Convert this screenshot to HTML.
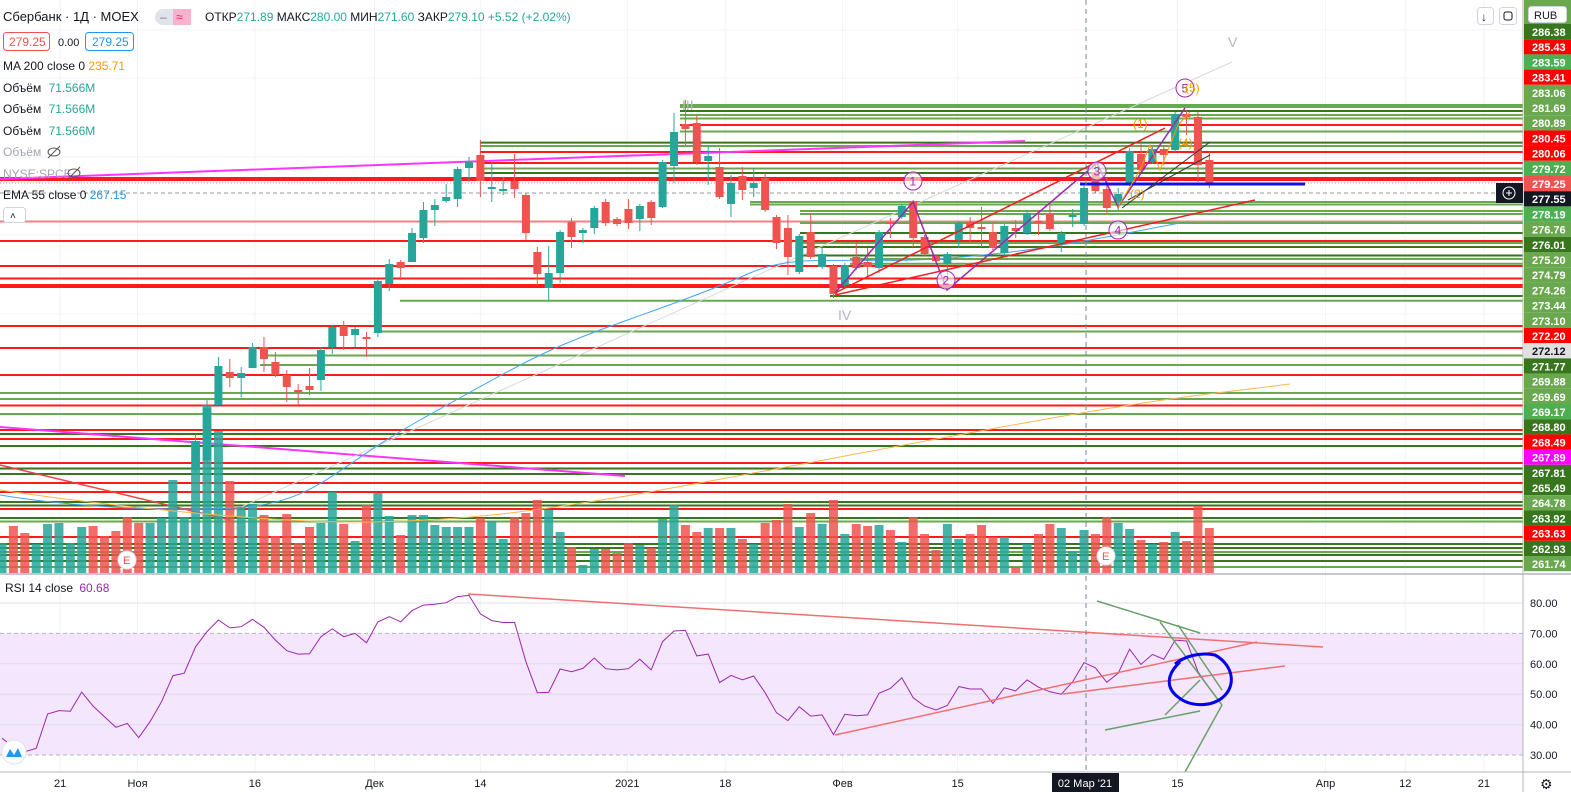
<!DOCTYPE html>
<html><head><meta charset="utf-8"><title>Сбербанк 1Д MOEX</title>
<style>
html,body{margin:0;padding:0;background:#fff;overflow:hidden}
svg{display:block;font-family:"Liberation Sans","Noto Sans CJK SC",sans-serif}
.ax{font-size:11px;fill:#131722}
.pl{font-size:11px;font-weight:bold}
</style></head>
<body>
<svg id="chart" width="1571" height="792" viewBox="0 0 1571 792" xmlns="http://www.w3.org/2000/svg">
<rect x="0" y="0" width="1571" height="792" fill="#ffffff"/>
<g id="grid"></g>
<g id="hlines"></g>
<g id="volumes"></g>
<g id="mas"></g>
<g id="candles"></g>
<g id="drawings"></g>
<g id="rsi"></g>
<g id="axes"></g>

<g>
 <text x="3" y="21" font-size="13" fill="#131722">Сбербанк · 1Д · MOEX</text>
 <rect x="155" y="9" width="36" height="16" rx="8" fill="#e0e3eb"/>
 <rect x="173" y="9" width="18" height="16" rx="0" fill="#f7b3cc"/>
 <text x="160" y="21" font-size="12" fill="#787b86">–</text>
 <text x="176" y="21" font-size="12" fill="#e91e63">≈</text>
 <text x="205" y="21" font-size="12" fill="#131722">ОТКР<tspan fill="#26a69a">271.89</tspan> МАКС<tspan fill="#26a69a">280.00</tspan> МИН<tspan fill="#26a69a">271.60</tspan> ЗАКР<tspan fill="#26a69a">279.10</tspan> <tspan fill="#26a69a">+5.52 (+2.02%)</tspan></text>
 <rect x="3.5" y="32.5" width="46" height="18" rx="3" fill="#fff" stroke="#ef5350"/>
 <text x="9" y="46" font-size="12" fill="#ef5350">279.25</text>
 <text x="58" y="46" font-size="11" fill="#131722">0.00</text>
 <rect x="85.5" y="32.5" width="48" height="18" rx="3" fill="#fff" stroke="#2196f3"/>
 <text x="92" y="46" font-size="12" fill="#2196f3">279.25</text>
 <text x="3" y="70" font-size="12" fill="#131722">MA 200 close 0 <tspan fill="#ff9800">235.71</tspan></text>
 <text x="3" y="92" font-size="12" fill="#131722">Объём <tspan fill="#26a69a" dx="4">71.566M</tspan></text>
 <text x="3" y="113" font-size="12" fill="#131722">Объём <tspan fill="#26a69a" dx="4">71.566M</tspan></text>
 <text x="3" y="135" font-size="12" fill="#131722">Объём <tspan fill="#26a69a" dx="4">71.566M</tspan></text>
 <text x="3" y="156" font-size="12" fill="#a3a6af">Объём</text>
 <g stroke="#555" fill="none"><ellipse cx="54" cy="152" rx="6" ry="4"/><line x1="48" y1="158" x2="60" y2="146"/></g>
 <text x="3" y="178" font-size="12" fill="#a3a6af">NYSE:SPCE</text>
 <g stroke="#555" fill="none"><ellipse cx="74" cy="173" rx="6" ry="4"/><line x1="68" y1="179" x2="80" y2="167"/></g>
 <text x="3" y="199" font-size="12" fill="#131722">EMA 55 close 0 <tspan fill="#2196f3">267.15</tspan></text>
 <rect x="3.5" y="207.5" width="22" height="15" rx="3" fill="#fff" stroke="#d1d4dc"/>
 <text x="10" y="219" font-size="10" fill="#131722">˄</text>
 <text x="5" y="592" font-size="12" fill="#131722">RSI 14 close <tspan fill="#9c27b0" dx="3">60.68</tspan></text>
</g>
<g>
 <rect x="1477.5" y="7.5" width="16" height="17" rx="3" fill="#fff" stroke="#d1d4dc"/>
 <text x="1481" y="21" font-size="12" fill="#131722">↓</text>
 <rect x="1499.5" y="7.5" width="17" height="17" rx="3" fill="#fff" stroke="#d1d4dc"/>
 <rect x="1504" y="12" width="8" height="8" rx="2" fill="none" stroke="#131722"/>
</g>
<g>
 <circle cx="127" cy="560" r="9" fill="#fff" stroke="#e0e3eb"/>
 <text x="123" y="564" font-size="11" fill="#ef5350">E</text>
 <circle cx="1106" cy="556" r="9" fill="#fff" stroke="#e0e3eb"/>
 <text x="1102" y="560" font-size="11" fill="#ef5350">E</text>
 <circle cx="14" cy="752" r="12" fill="#fff" stroke="#e0e3eb"/>
 <path d="M6 757 L10 749 L14 755 L18 748 L22 757 Z" fill="#2196f3"/>
</g>
</svg>
<script>
// ===== data =====
const startIdx = 17;
const opens = [249.75,250.75,256.25,259.55,258.95,259.95,262.05,260.55,259.25,257.75,
258.15,258.75,262.05,264.15,263.25,263.05,263.45,268.35,270.55,270.55,
272.95,275.75,276.65,276.85,279.95,281.25,277.85,277.65,278.65,277.25,
271.55,267.95,269.45,274.55,273.45,273.95,276.55,274.85,275.85,274.85,
276.55,276.05,280.15,284.35,284.45,280.65,280.05,276.35,279.15,277.95,
278.95,275.05,273.95,269.55,273.55,270.05,270.15,268.25,271.05,270.55,
269.95,274.55,275.05,276.55,273.05,271.15,270.35,272.75,274.55,274.05,
273.55,271.45,273.95,273.45,274.65,275.35,272.45,275.05,274.35,279.55,
277.85,276.55,278.35,281.35,280.55,281.85,281.75,285.35,285.05,280.75];
const highs = [253.35,256.75,261.05,260.85,260.05,262.45,263.05,261.55,259.75,258.35,
259.95,262.05,264.25,264.65,264.05,263.55,268.85,270.85,270.75,273.95,
276.55,276.85,278.35,280.05,281.05,282.75,280.55,279.05,281.35,277.45,
272.05,272.15,273.75,274.95,273.95,276.15,276.85,275.05,276.85,276.35,
276.75,280.75,285.45,286.75,285.15,282.25,281.95,279.25,280.05,279.95,
279.45,275.25,275.25,273.35,275.45,272.05,270.35,270.45,272.55,271.95,
273.75,274.95,276.35,276.75,273.25,271.35,271.55,274.65,275.05,276.05,
274.55,274.35,274.75,275.65,275.75,276.25,273.65,275.85,278.15,280.45,
279.05,277.95,281.95,282.75,282.05,282.25,285.55,285.75,285.55,281.55];
const lows = [249.25,250.55,256.25,258.05,257.05,259.95,259.55,259.05,256.55,256.25,
257.25,257.65,261.35,261.75,262.05,261.05,263.05,267.65,268.75,270.55,
272.45,274.15,276.45,276.05,278.55,277.05,276.55,277.25,276.95,272.75,
268.15,266.75,268.45,271.95,272.45,273.35,274.15,274.15,273.85,273.65,
274.25,275.95,278.45,282.25,280.25,278.25,276.85,275.05,276.75,277.05,
275.55,271.85,269.25,269.35,270.85,269.85,266.95,268.05,269.75,268.95,
269.45,272.95,274.85,272.05,271.15,270.45,269.05,271.95,272.45,272.05,
271.75,271.15,272.95,273.25,273.25,273.65,271.55,274.05,274.15,277.45,
275.35,275.75,278.15,279.55,280.35,280.25,281.55,283.25,278.55,277.95];
const closes = [252.65,255.95,260.15,258.95,259.45,262.05,260.85,259.25,258.05,257.55,
257.75,261.75,264.05,263.15,263.85,262.85,268.65,270.35,269.95,273.45,
275.75,276.25,277.05,279.85,280.55,278.65,278.05,277.85,277.85,273.45,
269.35,269.45,273.55,273.05,273.75,275.95,274.45,274.35,274.45,276.15,
274.95,280.55,283.55,283.85,280.55,281.15,277.05,278.45,277.75,278.45,
275.75,272.45,271.05,273.15,271.05,271.35,267.35,270.25,269.95,270.05,
273.55,274.35,276.15,272.95,271.35,270.65,271.35,274.45,273.95,273.85,
271.95,274.15,273.65,275.45,274.45,273.85,273.45,275.25,277.95,277.65,
275.95,277.35,281.65,279.75,281.85,281.25,285.35,285.05,280.25,278.35];
const volumes = [30,47,40,29,49,50,30,46,47,37,42,56,50,50,55,93,56,132,168,142,
92,66,69,58,37,59,30,46,50,81,49,32,68,80,57,38,58,58,48,46,
46,46,55,52,34,56,60,73,63,41,26,8,24,24,20,
30,28,25,54,68,48,41,45,45,45,34,29,50,53,69,46,60,49,73,39,
49,47,48,43,31,56,39,23,49,34,39,48,36,36,6,29,39,49,45,22,
43,39,56,50,44,33,29,31,41,32,67,45];
const earlyVolUp = [1,0,0,1,1,1,1,1,0,0,0,0,0,1,1,1,1];
const rsiValues = [35.5,32.7,31.1,32.2,43.5,44.6,44.4,50.7,46.1,42.6,
39.1,40.4,35.7,41.0,47.5,56.1,56.9,65.6,70.6,74.4,
71.8,72.2,74.6,72.0,67.8,64.3,63.2,63.3,68.9,71.5,
68.9,70.0,66.9,73.8,75.5,73.8,77.5,79.3,79.6,80.1,
82.1,82.5,76.4,74.2,73.6,73.6,60.7,50.5,50.6,58.3,
57.4,58.5,61.9,58.4,58.0,58.4,61.5,58.0,67.3,70.8,
71.0,62.6,63.2,53.8,56.2,54.7,56.0,50.5,43.9,41.3,
45.9,42.8,43.2,36.7,43.4,42.9,43.2,50.3,51.9,55.4,
48.8,46.1,44.8,46.3,52.5,51.7,51.7,47.0,52.1,51.1,
54.7,52.3,50.8,50.0,54.1,60.4,58.7,53.9,56.9,64.8,
59.8,63.1,61.5,67.8,67.5,57.4,52.0];
const rsiTicks = [80,70,60,50,40,30];
const timeLabels = ["21","Ноя","16","Дек","14","2021","18","Фев","15","15","Апр","12","21"];
const timeLabelIdx = [5.1,11.9,22.2,32.7,42,54.9,63.5,73.8,83.9,103.2,116.2,123.2,130.1];
const priceLabels = ["286.38","285.43","283.59","283.41","283.06","281.69","280.89","280.45","280.06","279.72","279.25","277.55","278.19","276.76","276.01","275.20","274.79","274.26","273.44","273.10","272.20","272.12","271.77","269.88","269.69","269.17","268.80","268.49","267.89","267.81","265.49","264.78","263.92","263.63","262.93","261.74"];
const priceLabelKinds = "DRLRMMMRRLPXLMDMMMMMRGDMMLDRXDDMDRDM";

// ===== scales =====
const PANE_R = 1523;
function xI(i){ return 2 + 11.39*i; }
function yP(p){ return (296.75 - p)*10; }
function yV(v){ return 573 - v; }
function yR(v){ return 603 + (80 - v)*3.04; }
const NS = "http://www.w3.org/2000/svg";
function mk(tag, attrs, parent){ const e=document.createElementNS(NS,tag); for(const k in attrs) e.setAttribute(k,attrs[k]); parent.appendChild(e); return e; }
const G = id => document.getElementById(id);
const UP="#26a69a", DN="#ef5350";

// grid
timeLabelIdx.forEach(ix=>{ const x=xI(ix); const l=mk('line',{x1:x,y1:0,x2:x,y2:772,stroke:'#f0f3fa','stroke-width':1},G('grid'));

 });
[30,78,157,235,314,392,470,549].forEach(y=>{ const l=mk('line',{x1:0,y1:y,x2:PANE_R,y2:y,stroke:'#f0f3fa'},G('grid'));

 });

// horizontal level drawings [y, color code, startX]
const levelDefs = [[105,'m',680],[107,'m',680],[111,'d',680],[115,'m',680],[118.5,'m',680],[125,'r',680],[131.5,'m',680],[142.6,'d',480],[146,'m',480],[152,'r',480],[163,'r',480],[168.5,'m',480],[173,'d',480],[178,'r',0],[180,'r',0],[202,'m',750],[204.5,'m',750],[211,'m',800],[214,'m',800],[221.5,'s',0],[223,'m',800],[233,'d',800],[241,'r',0],[243,'m',800],[247,'d',800],[255.5,'d',800],[259,'m',850],[263.7,'m',850],[266,'r',0],[278.5,'r',0],[285,'r',0],[287,'r',0],[296,'d',830],[300.7,'m',400],[326,'r',0],[331.5,'m',380],[348,'r',0],[355.5,'m',260],[365,'m',260],[375,'r',0],[393,'m',0],[399,'m',0],[405.5,'r',0],[414,'m',0],[430,'r',0],[434,'d',0],[439,'r',0],[446,'d',0],[463,'r',0],[468.5,'d',0],[474,'d',0],[483,'r',0],[492,'r',0],[502,'d',0],[505.5,'d',0],[509,'r',0],[518,'d',0],[521.5,'m',0],[537,'r',0],[544,'d',0],[548,'d',0],[552,'m',0],[555,'d',0],[561,'d',0],[567,'m',0]];
const lvlColor={r:'#ff1a1a',m:'#6aa84f',d:'#38761d',s:'#f28080'};
levelDefs.forEach(d=>{ const l=mk('line',{x1:d[2],y1:d[0],x2:PANE_R,y2:d[0],stroke:lvlColor[d[1]],'stroke-width':2},G('hlines'));

 });
{ const l=mk('line',{x1:0,y1:183,x2:PANE_R,y2:183,stroke:'#f28080','stroke-dasharray':'1 2'},G('hlines'));


const l2=mk('line',{x1:0,y1:193,x2:PANE_R,y2:193,stroke:'#9598a1','stroke-dasharray':'4 3'},G('hlines'));


const m1=mk('line',{x1:0,y1:179,x2:1025,y2:141,stroke:'#ff33ff','stroke-width':2},G('hlines'));


const m2=mk('line',{x1:0,y1:427,x2:625,y2:476,stroke:'#ff33ff','stroke-width':2},G('hlines'));


const m3=mk('line',{x1:0,y1:465,x2:230,y2:520,stroke:'#f04040','stroke-width':1.5},G('hlines'));


const g1=mk('line',{x1:230,y1:512,x2:1232,y2:62,stroke:'#d8d8d8','stroke-width':1},G('hlines'));


}

// volumes
volumes.forEach((v,i)=>{
  const up = i>=startIdx ? closes[i-startIdx]>=opens[i-startIdx] : earlyVolUp[i]===1;
  const r=mk('rect',{x:xI(i)-4.5,y:yV(v),width:9,height:v,fill:up?UP:DN,'fill-opacity':0.85},G('volumes'));
  
  
});

// moving averages
{ const ema=mk('path',{d:'M0 495 C60 505 150 512 233 508 S330 470 420 420 S540 352 600 330 S700 295 750 273 S850 266 950 258 S1100 238 1180 223',fill:'none',stroke:'#42a5f5','stroke-width':1},G('mas'));


const ma=mk('path',{d:'M0 490 C80 502 250 522 356 522 S540 510 620 497 S900 445 1041 420 S1220 393 1290 384',fill:'none',stroke:'#ffb74d','stroke-width':1},G('mas'));

 }

// candles
opens.forEach((o,k)=>{
  const i=k+startIdx, x=xI(i), c=closes[k], up=c>=o, col=up?UP:DN;
  const w=mk('line',{x1:x,y1:yP(highs[k]),x2:x,y2:yP(lows[k]),stroke:col,'stroke-width':1},G('candles'));
  
  
  const top=yP(Math.max(o,c)), h=Math.max(1.5,Math.abs(yP(o)-yP(c)));
  const b=mk('rect',{x:x-4,y:top,width:8,height:h,fill:col},G('candles'));
  
  
});

// wave drawings
{ const D=G('drawings');
let e;
e=mk('polyline',{points:'835,293 913,202 947,290 1097,163 1118,207 1185,108',fill:'none',stroke:'#9c27b0','stroke-width':1.5},D);


e=mk('line',{x1:835,y1:293,x2:1165,y2:128,stroke:'#f02020','stroke-width':1.5},D);


e=mk('line',{x1:835,y1:295,x2:1255,y2:200,stroke:'#f02020','stroke-width':1.5},D);


e=mk('line',{x1:1080,y1:184,x2:1305,y2:184,stroke:'#1010e0','stroke-width':3},D);


e=mk('polyline',{points:'1118,207 1140,170 1150,145 1160,170 1178,125 1190,112',fill:'none',stroke:'#ff9800','stroke-width':1},D);


e=mk('line',{x1:1122,y1:208,x2:1210,y2:142,stroke:'#333','stroke-width':1},D);


e=mk('line',{x1:1128,y1:200,x2:1210,y2:155,stroke:'#333','stroke-width':1},D);


const circ=[[913,181,'1'],[946,280,'2'],[1097,171,'3'],[1118,230,'4'],[1185,88,'5']];
circ.forEach(c=>{ const ci=mk('circle',{cx:c[0],cy:c[1],r:9,fill:'#fff','fill-opacity':0.6,stroke:'#9c27b0','stroke-width':1},D);


const t=mk('text',{x:c[0]-3.5,y:c[1]+4.5,'font-size':12,fill:'#9c27b0'},D); t.textContent=c[2];

 });
[[1133,128,'(1)'],[1130,198,'(2)'],[1185,92,'(5)'],[1178,147,'(4)']].forEach(c=>{ const t=mk('text',{x:c[0],y:c[1],'font-size':12,fill:'#ff9800'},D); t.textContent=c[2];

 });
[[682,110,'III'],[838,320,'IV'],[1228,47,'V']].forEach(c=>{ const t=mk('text',{x:c[0],y:c[1],'font-size':14,fill:'#b2b5be'},D); t.textContent=c[2];

 });
}

// RSI pane
{ const R=G('rsi');
let e=mk('rect',{x:0,y:yR(70),width:PANE_R,height:yR(30)-yR(70),fill:'#f3e6fd'},R);


rsiTicks.forEach(v=>{ const dashed=(v===70||v===30);
const l=mk('line',{x1:0,y1:yR(v),x2:PANE_R,y2:yR(v),stroke:dashed?'#b2b5be':'#e0dced','stroke-dasharray':dashed?'4 3':'none'},R);


const t=mk('text',{x:1530,y:yR(v)+4,class:'ax'},R); t.textContent=v.toFixed(2);

 });
const pts=rsiValues.map((v,i)=>xI(i).toFixed(1)+','+yR(v).toFixed(1)).join(' ');
e=mk('polyline',{points:pts,fill:'none',stroke:'#9c27b0','stroke-width':1},R);


const segs=[[468,594,1323,647,'#f07070'],[835,735,1257,642,'#f07070'],[1063,694,1285,666,'#f07070'],[1097,601,1200,633,'#6aa06a'],[1178,625,1222,690,'#6aa06a'],[1160,622,1222,705,'#6aa06a'],[1105,730,1200,711,'#6aa06a'],[1165,715,1200,680,'#6aa06a'],[1185,772,1222,705,'#6aa06a']];
segs.forEach(s=>{ const l=mk('line',{x1:s[0],y1:s[1],x2:s[2],y2:s[3],stroke:s[4],'stroke-width':1.5},R);

 });
e=mk('path',{d:'M1175 664 C1185 656 1200 652 1215 655 C1232 664 1238 685 1222 698 C1210 707 1190 707 1178 697 C1166 688 1166 675 1180 662',fill:'none',stroke:'#0000ee','stroke-width':3},R);


}

// axes
{ const A=G('axes');
let e=mk('line',{x1:0,y1:574,x2:1571,y2:574,stroke:'#b2b5be','stroke-width':1.5},A);


e=mk('line',{x1:0,y1:772,x2:1571,y2:772,stroke:'#b2b5be'},A);


e=mk('line',{x1:PANE_R,y1:0,x2:PANE_R,y2:792,stroke:'#b2b5be'},A);


e=mk('line',{x1:1086,y1:0,x2:1086,y2:772,stroke:'#758696','stroke-dasharray':'5 4'},A);


timeLabels.forEach((t,k)=>{ const x=xI(timeLabelIdx[k]);
const tx=mk('text',{x:x,y:787,class:'ax','text-anchor':'middle'},A); tx.textContent=t;

 });
e=mk('rect',{x:1052,y:773,width:67,height:19,fill:'#131722'},A);


e=mk('text',{x:1085,y:787,'font-size':11,fill:'#fff','text-anchor':'middle'},A); e.textContent="02 Мар '21";


e=mk('text',{x:1540,y:789,'font-size':14,fill:'#131722'},A); e.textContent='⚙';


const kindBg={D:'#38761d',R:'#ff0000',L:'#4caf50',M:'#6aa84f',P:'#ef5350',X:'#ff00ff',G:'#e0e0e0'};
e=mk('rect',{x:1524,y:0,width:47,height:26,fill:'#6aa84f'},A);


priceLabels.forEach((t,k)=>{ const y=32+k*15.2; const kind=priceLabelKinds[k];
let bg = kind==='X'&&t==='277.55' ? '#131722' : kindBg[kind];
const r=mk('rect',{x:1524,y:y-8,width:47,height:15.2,fill:bg},A);


const tx=mk('text',{x:1532,y:y+4,class:'pl',fill:kind==='G'?'#131722':'#fff'},A); tx.textContent=t;

 });
e=mk('rect',{x:1528.5,y:6.5,width:38,height:16,rx:3,fill:'#fff',stroke:'#d1d4dc'},A);


e=mk('text',{x:1534,y:19,'font-size':11,fill:'#131722'},A); e.textContent='RUB';


e=mk('rect',{x:1496,y:183,width:27,height:20,fill:'#131722'},A);


e=mk('circle',{cx:1509,cy:193,r:6,fill:'none',stroke:'#fff'},A);


e=mk('path',{d:'M1506 193 H1512 M1509 190 V196',stroke:'#fff'},A);


}
</script>
</body></html>
